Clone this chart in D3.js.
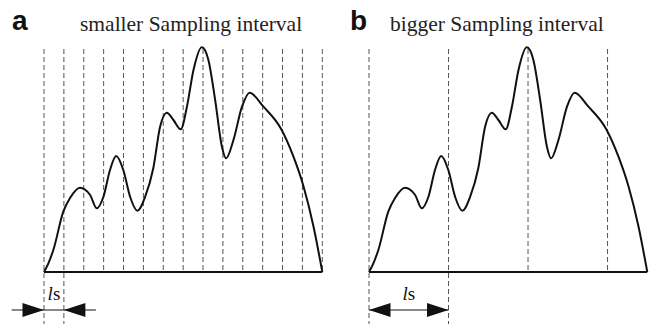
<!DOCTYPE html>
<html>
<head>
<meta charset="utf-8">
<script src="https://cdn.jsdelivr.net/npm/d3@7"></script>
<style>
  html, body { margin: 0; padding: 0; background: #fff; }
  svg { display: block; }
</style>
</head>
<body>
<script>
// Signal profile: position along the trace (in sampling-interval units) and height
const profileX = [0, 0.22, 0.47, 0.97, 1.31, 1.81, 2.32, 2.65, 2.99, 3.32, 3.63, 3.99, 4.33, 4.70, 5.09,
                  5.50, 5.84, 6.18, 6.51, 6.88, 7.19, 7.52, 7.94, 8.27, 8.61, 8.95, 9.16, 9.53, 9.96,
                  10.34, 11.04, 11.93, 12.55, 13.06, 13.56, 14];
const profileY = [0, 8.7, 22, 60.3, 74, 84.3, 77, 63.7, 75.3, 102, 116, 102, 75.3, 61.3, 75.3,
                  104, 145.3, 159.3, 152, 142.7, 165.3, 202, 224.7, 212, 172, 125.3, 113.7, 132, 165.3,
                  179.3, 165.3, 143, 115.3, 85.3, 45.3, 0];

// Sampling positions for each panel
const samplesA = [0, 1, 2, 3, 4, 5, 6, 7, 8, 9, 10, 11, 12, 13, 14];
const samplesB = [0, 4, 8, 12];
const intervalA = [0, 1];   // interval marked under panel a
const intervalB = [0, 4];   // interval marked under panel b

const panelLetters = ["a", "b"];
const panelTitles = ["smaller Sampling interval", "bigger Sampling interval"];

const W = 653, H = 324;
const svg = d3.select("body").append("svg").attr("width", W).attr("height", H);

const y = d3.scaleLinear().domain([0, 224.7]).range([272, 47.3]);
const profile = profileX.map((x, i) => [x, profileY[i]]);

const panels = [
  { letter: panelLetters[0], title: panelTitles[0], samples: samplesA, interval: intervalA,
    x: d3.scaleLinear().domain([0, 14]).range([44, 322.3]), letterX: 12, titleX: 80, inward: true },
  { letter: panelLetters[1], title: panelTitles[1], samples: samplesB, interval: intervalB,
    x: d3.scaleLinear().domain([0, 14]).range([369, 647.3]), letterX: 350, titleX: 390, inward: false }
];

const arrowY = 310, headLen = 21.5, headHalf = 7;

panels.forEach(p => {
  const g = svg.append("g");

  // panel letter and title
  g.append("text").attr("x", p.letterX).attr("y", 30)
    .attr("font-family", "'Liberation Sans', Arial, sans-serif").attr("font-weight", "bold")
    .attr("font-size", 28).attr("fill", "#111").text(p.letter);
  g.append("text").attr("x", p.titleX).attr("y", 31)
    .attr("font-family", "'Liberation Serif', 'Times New Roman', serif")
    .attr("font-size", 21.5).attr("fill", "#222").text(p.title);

  // dashed sampling lines; the two bounding the marked interval run further down
  g.selectAll("line.sample").data(p.samples).join("line")
    .attr("class", "sample")
    .attr("x1", d => p.x(d)).attr("x2", d => p.x(d))
    .attr("y1", 49).attr("y2", d => p.interval.includes(d) ? H : y(0))
    .attr("stroke", "#555").attr("stroke-width", 1)
    .attr("stroke-dasharray", "5,3");

  // baseline
  g.append("line")
    .attr("x1", p.x(0)).attr("x2", p.x(14)).attr("y1", y(0)).attr("y2", y(0))
    .attr("stroke", "#111").attr("stroke-width", 2);

  // signal trace
  const line = d3.line().x(d => p.x(d[0])).y(d => y(d[1])).curve(d3.curveMonotoneX);
  g.append("path").datum(profile).attr("d", line)
    .attr("fill", "none").attr("stroke", "#111").attr("stroke-width", 2)
    .attr("stroke-linejoin", "round");

  // interval dimension arrow
  const xa = p.x(p.interval[0]), xb = p.x(p.interval[1]);
  const head = (tip, dir) => {
    // dir = +1 points right, -1 points left
    const base = tip - dir * headLen;
    return `M${tip},${arrowY}L${base},${arrowY - headHalf}L${base},${arrowY + headHalf}Z`;
  };
  if (p.inward) {
    g.append("line").attr("x1", xa - 32.3).attr("x2", xb + 32).attr("y1", arrowY).attr("y2", arrowY)
      .attr("stroke", "#111").attr("stroke-width", 1);
    g.append("path").attr("d", head(xa, 1)).attr("fill", "#111");
    g.append("path").attr("d", head(xb, -1)).attr("fill", "#111");
  } else {
    g.append("line").attr("x1", xa).attr("x2", xb).attr("y1", arrowY).attr("y2", arrowY)
      .attr("stroke", "#111").attr("stroke-width", 1.2);
    g.append("path").attr("d", head(xa, -1)).attr("fill", "#111");
    g.append("path").attr("d", head(xb, 1)).attr("fill", "#111");
  }

  // interval label "ls"
  const lbl = g.append("text").attr("x", (xa + xb) / 2).attr("y", 300)
    .attr("text-anchor", "middle")
    .attr("font-family", "'Liberation Serif', 'Times New Roman', serif")
    .attr("font-size", 19).attr("fill", "#111");
  lbl.append("tspan").attr("font-style", "italic").text("l");
  lbl.append("tspan").text("s");
});
</script>
</body>
</html>
